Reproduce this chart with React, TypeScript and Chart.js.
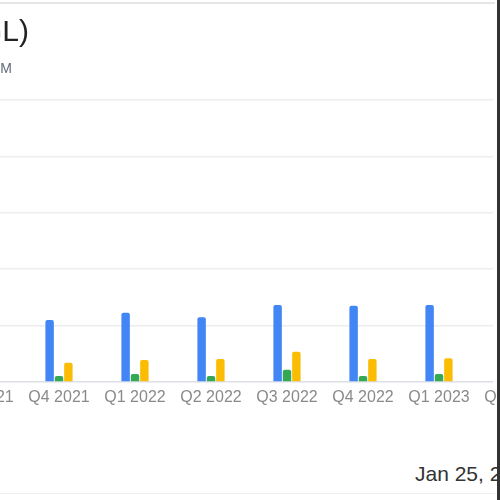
import React, { useEffect, useRef } from "react";
import { Chart, registerables } from "chart.js";

Chart.register(...registerables);

const categories = ["Q3 2021", "Q4 2021", "Q1 2022", "Q2 2022", "Q3 2022", "Q4 2022", "Q1 2023", "Q2 2023"];
const seriesBlue = [21.0, 22.0, 24.6, 23.0, 27.3, 27.0, 27.3, null];
const seriesGreen = [2.0, 2.1, 2.8, 2.1, 4.3, 2.1, 2.8, null];
const seriesYellow = [6.5, 6.8, 7.8, 8.2, 10.7, 8.2, 8.4, null];
const yTicks = [0, 20, 40, 60, 80, 100];

const FONT = "'Liberation Sans', Arial, sans-serif";

export default function App() {
  const ref = useRef<HTMLCanvasElement | null>(null);

  useEffect(() => {
    document.body.style.margin = "0";
    const canvas = ref.current;
    if (!canvas) return;
    const chart = new Chart(canvas, {
      type: "bar",
      data: {
        labels: categories,
        datasets: [
          { label: "Blue", data: seriesBlue, backgroundColor: "#4285F4", borderRadius: 2, categoryPercentage: 0.37, barPercentage: 0.9 },
          { label: "Green", data: seriesGreen, backgroundColor: "#34A853", borderRadius: 2, categoryPercentage: 0.37, barPercentage: 0.9 },
          { label: "Yellow", data: seriesYellow, backgroundColor: "#FBBC04", borderRadius: 2, categoryPercentage: 0.37, barPercentage: 0.9 },
        ],
      },
      options: {
        animation: false,
        responsive: false,
        devicePixelRatio: 1,
        layout: { padding: { top: 100, left: 0, right: 0, bottom: 0 } },
        plugins: { legend: { display: false }, tooltip: { enabled: false }, title: { display: false } },
        scales: {
          x: {
            grid: { display: false, drawTicks: false },
            border: { display: false },
            ticks: {
              font: { family: FONT, size: 16 },
              color: "#8a8a8a",
              padding: 6,
              maxRotation: 0,
              autoSkip: false,
            },
            afterFit: (s: any) => {
              s.height = 30;
            },
          },
          y: {
            min: yTicks[0],
            max: yTicks[yTicks.length - 1],
            afterBuildTicks: (s: any) => {
              s.ticks = yTicks.map((v) => ({ value: v }));
            },
            grid: {
              color: (ctx: any) => (ctx.tick && ctx.tick.value === 0 ? "#dcdfe6" : "#ededed"),
              lineWidth: 1.5,
              drawTicks: false,
            },
            border: { display: false },
            ticks: { font: { family: FONT, size: 14 }, color: "#8a8a8a", padding: 8 },
            afterFit: (s: any) => {
              s.width = 50;
            },
          },
        },
      },
    });
    return () => chart.destroy();
  }, []);

  return (
    <div style={{ position: "relative", width: 500, height: 500, overflow: "hidden", background: "#fff", fontFamily: FONT }}>
      <div style={{ position: "absolute", left: -105, top: 0 }}>
        <canvas ref={ref} width={658} height={412} style={{ display: "block" }} />
      </div>
      <div style={{ position: "absolute", left: 493, top: 0, width: 4, height: 388, background: "#fff" }} />
      <div
        style={{
          position: "absolute",
          right: 471,
          top: 16,
          fontSize: 30,
          lineHeight: "30px",
          color: "#222",
          whiteSpace: "nowrap",
        }}
      >
        Alphabet Inc. (GOOGL)
      </div>
      <div
        style={{
          position: "absolute",
          right: 488,
          top: 61,
          fontSize: 14,
          lineHeight: "14px",
          color: "#5f6b7a",
          whiteSpace: "nowrap",
        }}
      >
        Quarterly results, USD M
      </div>
      <div
        style={{
          position: "absolute",
          left: 415,
          top: 463,
          fontSize: 21,
          lineHeight: "21px",
          color: "#333",
          whiteSpace: "nowrap",
        }}
      >
        Jan 25, 2024
      </div>
      <div style={{ position: "absolute", left: 0, top: 2, width: 495, height: 2, background: "#e6e6e6" }} />
      <div style={{ position: "absolute", left: 0, top: 493, width: 495, height: 1, background: "#eeeeee" }} />
      <div style={{ position: "absolute", left: 497, top: 0, width: 3, height: 500, background: "#333" }} />
    </div>
  );
}
